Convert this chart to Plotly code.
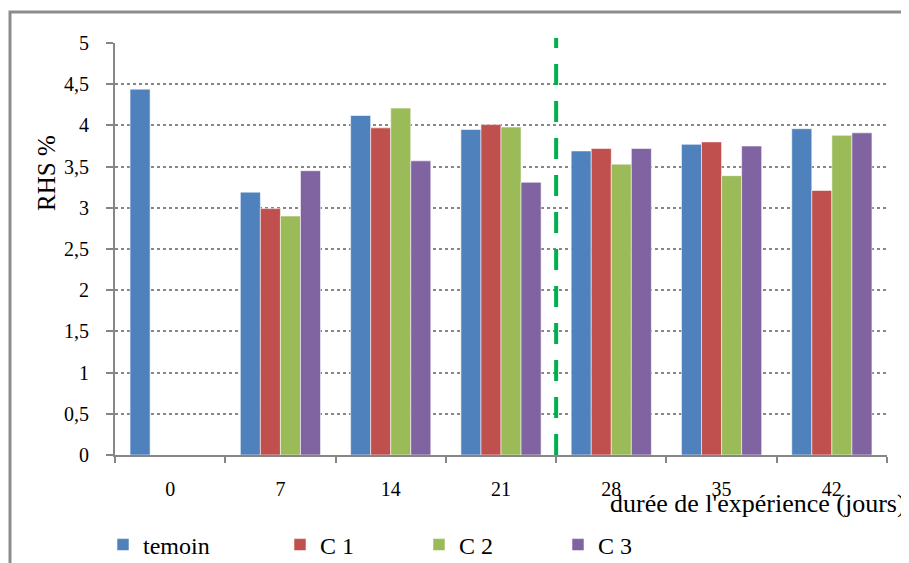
import plotly.graph_objects as go

days = ["0", "7", "14", "21", "28", "35", "42"]
temoin = [4.44, 3.19, 4.12, 3.95, 3.69, 3.77, 3.96]
c1 = [None, 2.99, 3.97, 4.01, 3.72, 3.80, 3.21]
c2 = [None, 2.90, 4.21, 3.98, 3.53, 3.39, 3.88]
c3 = [None, 3.45, 3.57, 3.31, 3.72, 3.75, 3.91]
series_names = ["temoin", "C 1", "C 2", "C 3"]
colors = ["#4F81BD", "#C0504D", "#9BBB59", "#8064A2"]
y_ticks = [0, 0.5, 1, 1.5, 2, 2.5, 3, 3.5, 4, 4.5, 5]
y_tick_text = ["0", "0,5", "1", "1,5", "2", "2,5", "3", "3,5", "4", "4,5", "5"]

FONT = "Liberation Serif"
GRAY = "#868686"

fig = go.Figure()
for i, (name, vals) in enumerate(zip(series_names, [temoin, c1, c2, c3])):
    fig.add_trace(go.Bar(
        x=days, y=vals, name=name,
        marker=dict(color=colors[i], line=dict(color="rgba(255,255,255,0.55)", width=1)),
        legend="legend" if i == 0 else "legend2",
    ))

# page body has an 8px margin: figure is shifted by (8, 8)
OFF = 8
W, H = 909 - OFF, 563 - OFF
L, T = 115 - OFF, 43 - OFF
R = W - (887 - OFF)
B = H - (455 - OFF)
pw = W - L - R
ph = H - T - B

def px_x(page_x):
    return (page_x - OFF - L) / pw

def px_y(page_y):
    return (H - B - (page_y - OFF)) / ph

# separator dashed line between day 21 and day 28
fig.add_shape(type="line", xref="x", yref="paper",
              x0=3.5, x1=3.5, y0=0, y1=px_y(38),
              line=dict(color="#00B050", width=4, dash="21px,16px"), layer="above")

# outer frame
fig.add_shape(type="rect", xref="paper", yref="paper",
              x0=px_x(10), x1=px_x(960), y0=px_y(620), y1=px_y(12),
              line=dict(color="#8c8c8c", width=3), fillcolor="rgba(0,0,0,0)")

fig.add_annotation(text="RHS %", xref="paper", yref="paper",
                   x=px_x(46), y=px_y(173), textangle=-90, showarrow=False,
                   xanchor="center", yanchor="middle",
                   font=dict(family=FONT, size=25, color="black"))
fig.add_annotation(text="durée de l'expérience (jours)", xref="paper", yref="paper",
                   x=px_x(908), y=px_y(503), showarrow=False,
                   xanchor="right", yanchor="middle",
                   font=dict(family=FONT, size=26, color="black"))

fig.update_layout(
    width=W, height=H,
    margin=dict(l=L, r=R, t=T, b=B, autoexpand=False),
    paper_bgcolor="white", plot_bgcolor="white",
    separators=", ",
    barmode="group", bargap=0.273, bargroupgap=0,
    font=dict(family=FONT, color="black"),
    legend=dict(orientation="h", x=px_x(103), y=px_y(545), xanchor="left", yanchor="middle",
                font=dict(family=FONT, size=24), itemwidth=30,
                bgcolor="rgba(0,0,0,0)"),
    legend2=dict(orientation="h", x=px_x(280), y=px_y(545), xanchor="left", yanchor="middle",
                 font=dict(family=FONT, size=24), itemwidth=30,
                 entrywidth=94, entrywidthmode="pixels",
                 bgcolor="rgba(0,0,0,0)"),
    showlegend=True,
)
fig.update_xaxes(
    type="category", showline=True, linecolor=GRAY, linewidth=2,
    ticks="outside", tickson="boundaries", ticklen=6, tickcolor=GRAY, tickwidth=1.5,
    showgrid=False, tickfont=dict(family=FONT, size=20, color="black"),
    ticklabelstandoff=15,
)
fig.update_yaxes(
    range=[0, 5], tickvals=y_ticks, ticktext=y_tick_text,
    showline=True, linecolor=GRAY, linewidth=2,
    ticks="outside", ticklen=7, tickcolor=GRAY, tickwidth=1.5,
    showgrid=True, gridcolor=GRAY, gridwidth=1.5, griddash="dot",
    zeroline=False, tickfont=dict(family=FONT, size=20, color="black"),
    ticklabelstandoff=13,
)

fig.write_html("out.html")
